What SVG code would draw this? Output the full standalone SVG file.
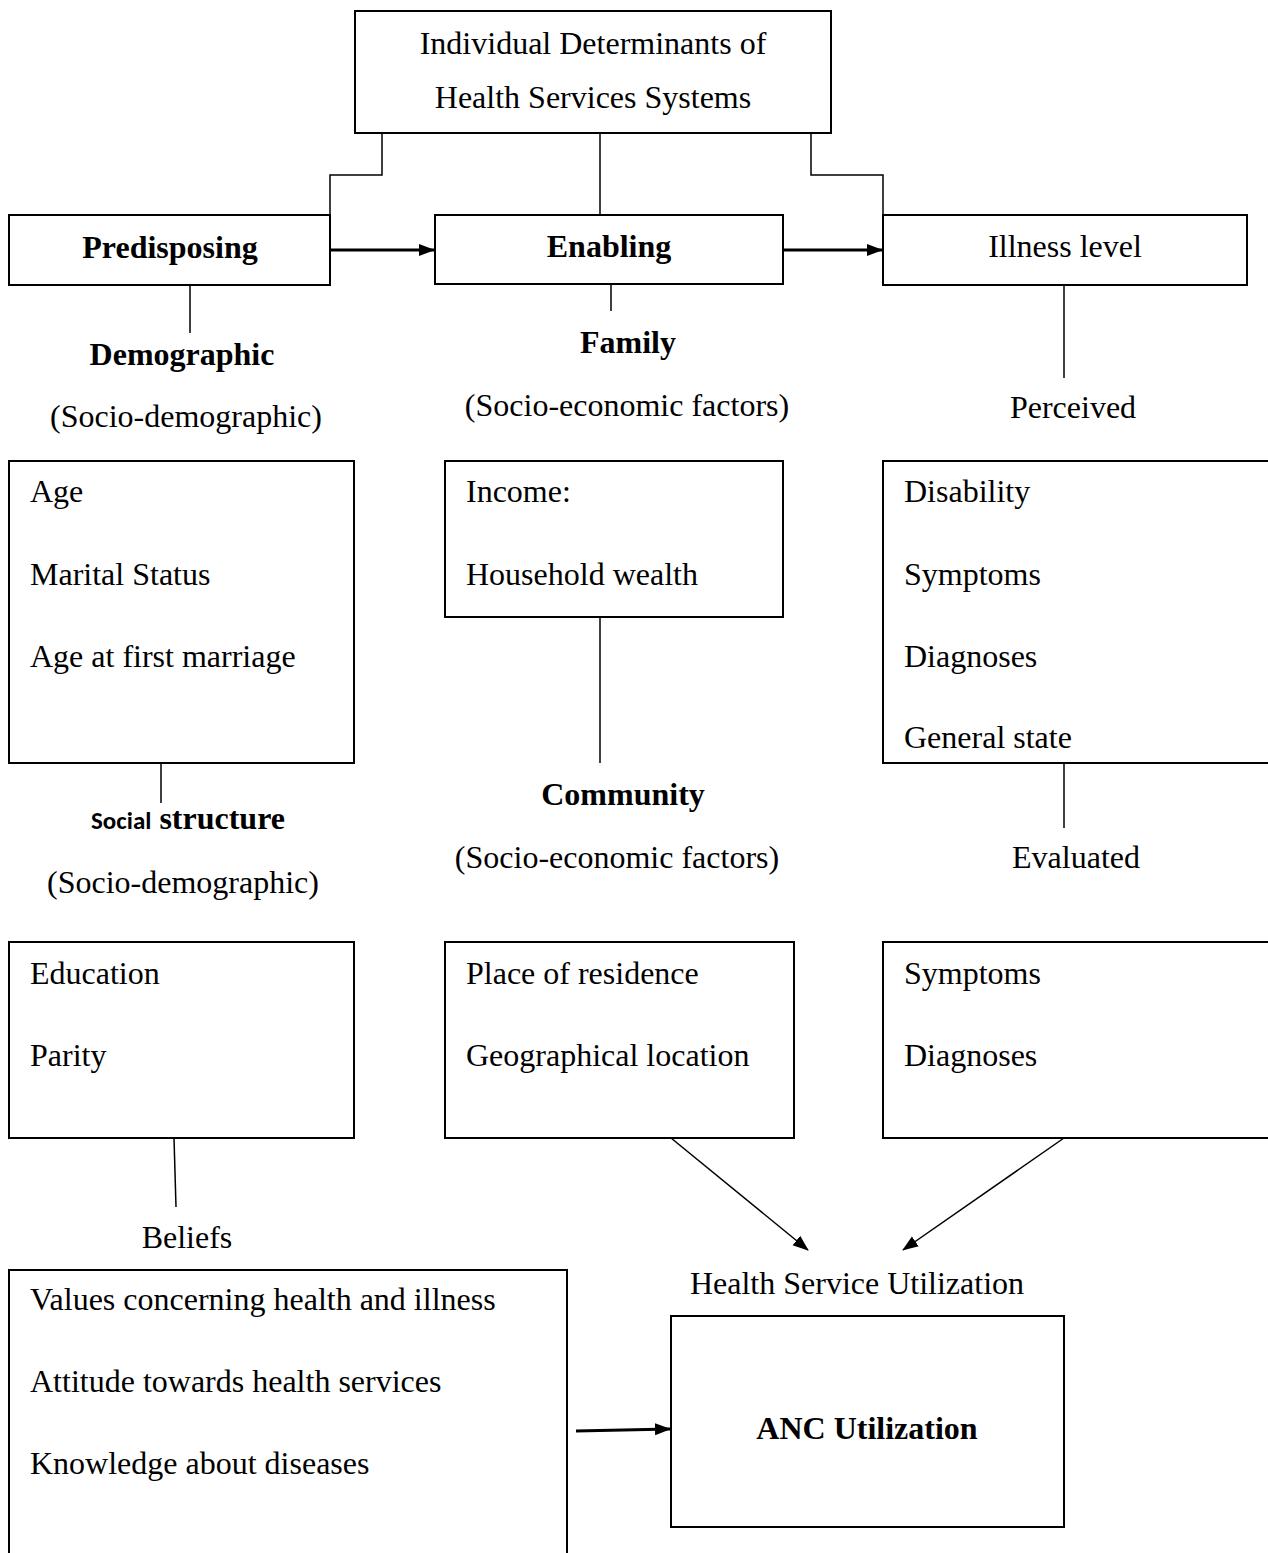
<svg xmlns="http://www.w3.org/2000/svg" width="1268" height="1553" viewBox="0 0 1268 1553">
<style>
.box{fill:#fff;stroke:#000;stroke-width:2}
.t{font-family:"Liberation Serif","Times New Roman",serif;font-size:32px;fill:#000}
.c{text-anchor:middle}
.b{font-weight:bold}
.ln{fill:none;stroke:#000;stroke-width:1.5}
.ar{fill:none;stroke:#000;stroke-width:3}
</style>
<defs>
<marker id="ah2" markerWidth="16" markerHeight="16" refX="15" refY="8" orient="auto" markerUnits="userSpaceOnUse" viewBox="0 0 16 16">
<path d="M0,2 L16,8 L0,14 z" fill="#000"/>
</marker>
</defs>
<rect width="1268" height="1553" fill="#fff"/>
<g id="connectors">
<path class="ln" d="M382,133 V175 H330 V215"/>
<path class="ln" d="M600,133 V215"/>
<path class="ln" d="M811,133 V175 H883 V215"/>
<path class="ar" d="M330,250 H434" marker-end="url(#ah2)"/>
<path class="ar" d="M783,250 H882" marker-end="url(#ah2)"/>
<path class="ln" d="M190,285 V333"/>
<path class="ln" d="M611,284 V311"/>
<path class="ln" d="M1064,285 V378"/>
<path class="ln" d="M161,763 V803"/>
<path class="ln" d="M600,617 V763"/>
<path class="ln" d="M1064,763 V828"/>
<path class="ln" d="M174,1138 L176,1207"/>
<path class="ln" d="M671,1138 L808,1250" stroke-width="2" marker-end="url(#ah2)"/>
<path class="ln" d="M1064,1138 L903,1250" stroke-width="2" marker-end="url(#ah2)"/>
<path class="ar" d="M576,1431 L670,1429" marker-end="url(#ah2)"/>
</g>
<g id="top">
<rect class="box" x="355" y="11" width="476" height="122"/>
<text class="t c" x="593" y="54">Individual Determinants of</text>
<text class="t c" x="593" y="108">Health Services Systems</text>
</g>
<g id="predisposing">
<rect class="box" x="9" y="215" width="321" height="70"/>
<text class="t c b" x="170" y="258">Predisposing</text>
</g>
<g id="enabling">
<rect class="box" x="435" y="215" width="348" height="69"/>
<text class="t c b" x="609" y="257">Enabling</text>
</g>
<g id="illness">
<rect class="box" x="883" y="215" width="364" height="70"/>
<text class="t c" x="1065" y="257">Illness level</text>
</g>
<g id="labels">
<text class="t c b" x="182" y="365">Demographic</text>
<text class="t c" x="186" y="427">(Socio-demographic)</text>
<text class="t c b" x="628" y="353">Family</text>
<text class="t c" x="627" y="416">(Socio-economic factors)</text>
<text class="t c" x="1073" y="418">Perceived</text>
<text class="t c b" x="188" y="829"><tspan font-family="Carlito,'Open Sans',sans-serif" font-size="25">Social</tspan> structure</text>
<text class="t c b" x="623" y="805">Community</text>
<text class="t c" x="183" y="893">(Socio-demographic)</text>
<text class="t c" x="617" y="868">(Socio-economic factors)</text>
<text class="t c" x="1076" y="868">Evaluated</text>
<text class="t c" x="187" y="1248">Beliefs</text>
<text class="t c" x="857" y="1294">Health Service Utilization</text>
</g>
<g id="demographic-box">
<rect class="box" x="9" y="461" width="345" height="302"/>
<text class="t" x="30" y="502">Age</text>
<text class="t" x="30" y="585">Marital Status</text>
<text class="t" x="30" y="667">Age at first marriage</text>
</g>
<g id="family-box">
<rect class="box" x="445" y="461" width="338" height="156"/>
<text class="t" x="466" y="502">Income:</text>
<text class="t" x="466" y="585">Household wealth</text>
</g>
<g id="perceived-box">
<rect class="box" x="883" y="461" width="400" height="302"/>
<text class="t" x="904" y="502">Disability</text>
<text class="t" x="904" y="585">Symptoms</text>
<text class="t" x="904" y="667">Diagnoses</text>
<text class="t" x="904" y="748">General state</text>
</g>
<g id="social-box">
<rect class="box" x="9" y="942" width="345" height="196"/>
<text class="t" x="30" y="984">Education</text>
<text class="t" x="30" y="1066">Parity</text>
</g>
<g id="community-box">
<rect class="box" x="445" y="942" width="349" height="196"/>
<text class="t" x="466" y="984">Place of residence</text>
<text class="t" x="466" y="1066">Geographical location</text>
</g>
<g id="evaluated-box">
<rect class="box" x="883" y="942" width="400" height="196"/>
<text class="t" x="904" y="984">Symptoms</text>
<text class="t" x="904" y="1066">Diagnoses</text>
</g>
<g id="beliefs-box">
<rect class="box" x="9" y="1270" width="558" height="300"/>
<text class="t" x="30" y="1310">Values concerning health and illness</text>
<text class="t" x="30" y="1392">Attitude towards health services</text>
<text class="t" x="30" y="1474">Knowledge about diseases</text>
</g>
<g id="anc">
<rect class="box" x="671" y="1316" width="393" height="211"/>
<text class="t c b" x="867" y="1439">ANC Utilization</text>
</g>
</svg>
